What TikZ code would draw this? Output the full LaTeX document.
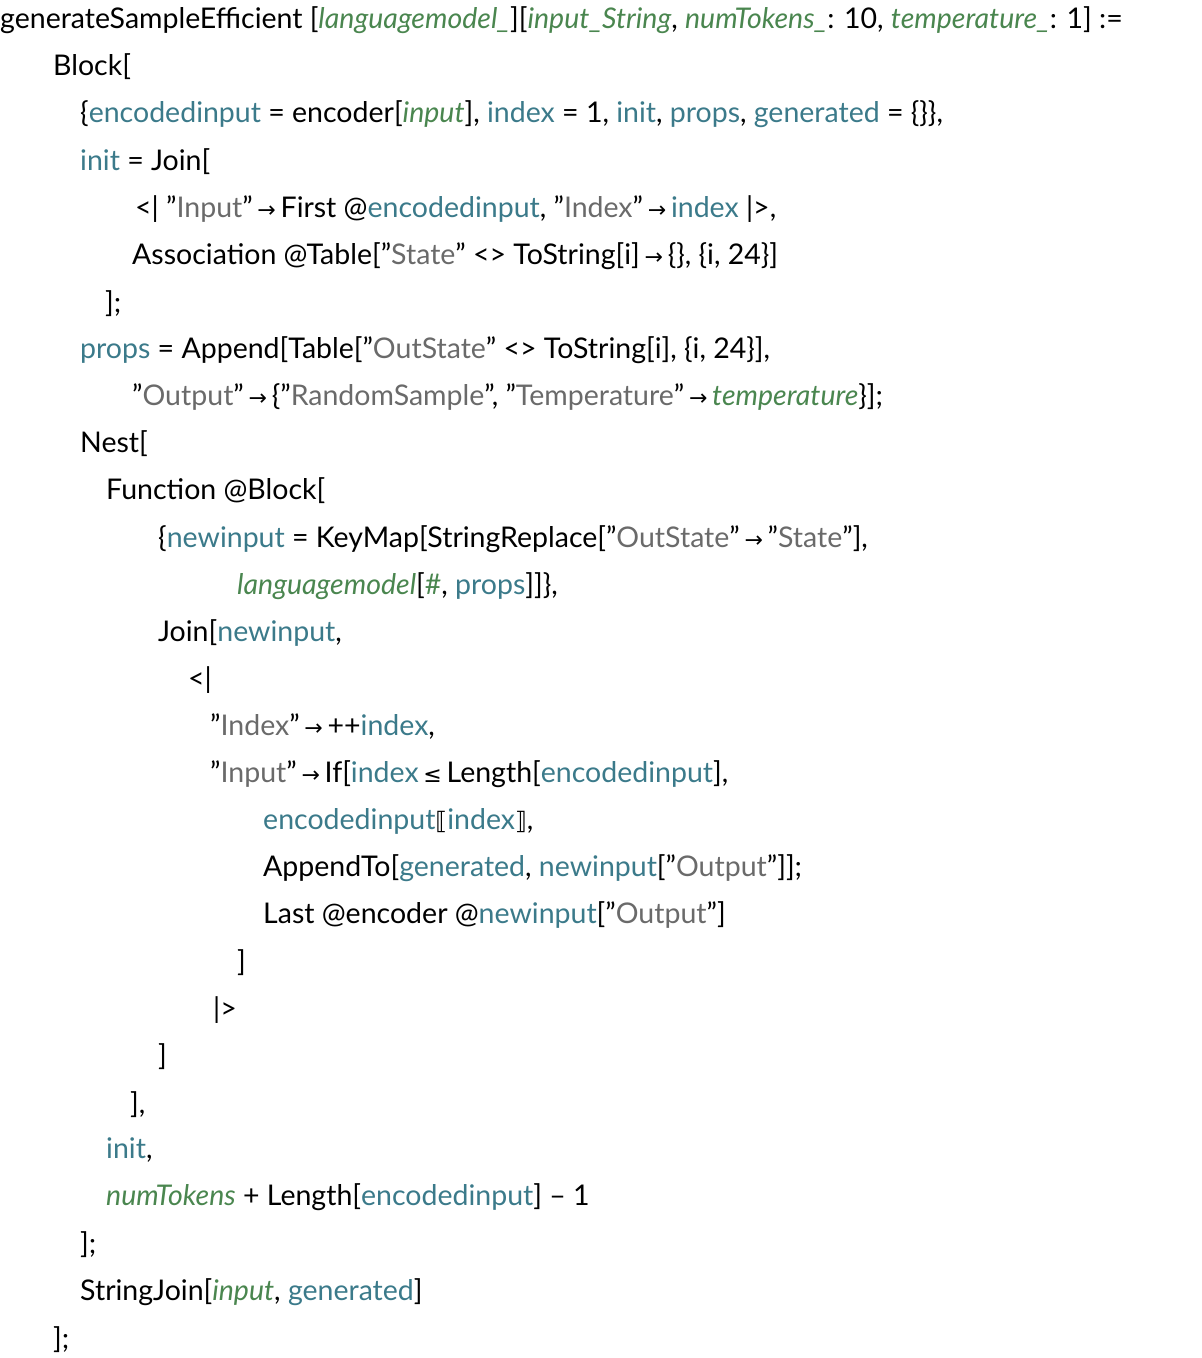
\documentclass[tikz,border=0pt]{standalone}
\usepackage{fontspec}
\setmainfont{Lato}
\newfontfamily\dv{DejaVu Sans}
\definecolor{vteal}{HTML}{3B7A8A}
\definecolor{agreen}{HTML}{4A864F}
\definecolor{sgray}{HTML}{6A6A6A}
\newcommand{\V}[1]{\textcolor{vteal}{#1}}
\newcommand{\A}[1]{\textcolor{agreen}{\itshape #1}}
\newcommand{\Q}[1]{\symbol{34}\textcolor{sgray}{#1}\symbol{34}}
\newcommand{\ra}{\,{\dv\fontsize{22}{26}\selectfont →}\,}
\newcommand{\myle}{\,{\dv\fontsize{22}{26}\selectfont ≤}\,}
\newcommand{\lb}{{\dv\fontsize{24}{28}\selectfont ⟦}}
\newcommand{\rb}{{\dv\fontsize{24}{28}\selectfont ⟧}}
\begin{document}
\begin{tikzpicture}[x=1pt,y=1pt,every node/.style={anchor=west,inner sep=0pt,font=\fontsize{28.5}{32}\selectfont}]
\useasboundingbox (0,0) rectangle (1202,-1358);
\node (l1) at (0,-20) {generateSampleEfficient [\A{languagemodel\_}][\A{input\_String}, \A{numTokens\_}: 10, \A{temperature\_}: 1] :=};
\node (l2) at (53,-67) {Block[};
\node (l3) at (80,-114) {\{\V{encodedinput} = encoder[\A{input}], \V{index} = 1, \V{init}, \V{props}, \V{generated} = \{\}\},};
\node (l4) at (80,-162) {\V{init} = Join[};
\node (l5) at (135,-209) {<| \Q{Input}\ra First @\V{encodedinput}, \Q{Index}\ra\V{index} |>,};
\node (l6) at (132,-256) {Association @Table[\Q{State} <> ToString[i]\ra\{\}, \{i, 24\}]};
\node (l7) at (105,-304) {];};
\node (l8) at (80,-350) {\V{props} = Append[Table[\Q{OutState} <> ToString[i], \{i, 24\}],};
\node (l9) at (132,-397) {\Q{Output}\ra\{\Q{RandomSample}, \Q{Temperature}\ra\A{temperature}\}];};
\node (l10) at (80,-444) {Nest[};
\node (l11) at (106,-491) {Function @Block[};
\node (l12) at (158,-539) {\{\V{newinput} = KeyMap[StringReplace[\Q{OutState}\ra\Q{State}],};
\node (l13) at (237,-586) {\A{languagemodel}[\textcolor{agreen}{\#}, \V{props}]]\},};
\node (l14) at (158,-633) {Join[\V{newinput},};
\node (l15) at (188,-680) {<|};
\node (l16) at (210,-727) {\Q{Index}\ra ++\V{index},};
\node (l17) at (210,-774) {\Q{Input}\ra If[\V{index}\myle Length[\V{encodedinput}],};
\node (l18) at (263,-821) {\V{encodedinput}\lb\V{index}\rb,};
\node (l19) at (263,-868) {AppendTo[\V{generated}, \V{newinput}[\Q{Output}]];};
\node (l20) at (263,-915) {Last @encoder @\V{newinput}[\Q{Output}]};
\node (l21) at (237,-963) {]};
\node (l22) at (213,-1010) {|>};
\node (l23) at (158,-1057) {]};
\node (l24) at (130,-1105) {],};
\node (l25) at (106,-1150) {\V{init},};
\node (l26) at (106,-1197) {\A{numTokens} + Length[\V{encodedinput}] – 1};
\node (l27) at (80,-1245) {];};
\node (l28) at (80,-1292) {StringJoin[\A{input}, \V{generated}]};
\node (l29) at (53,-1340) {];};
\end{tikzpicture}
\end{document}
